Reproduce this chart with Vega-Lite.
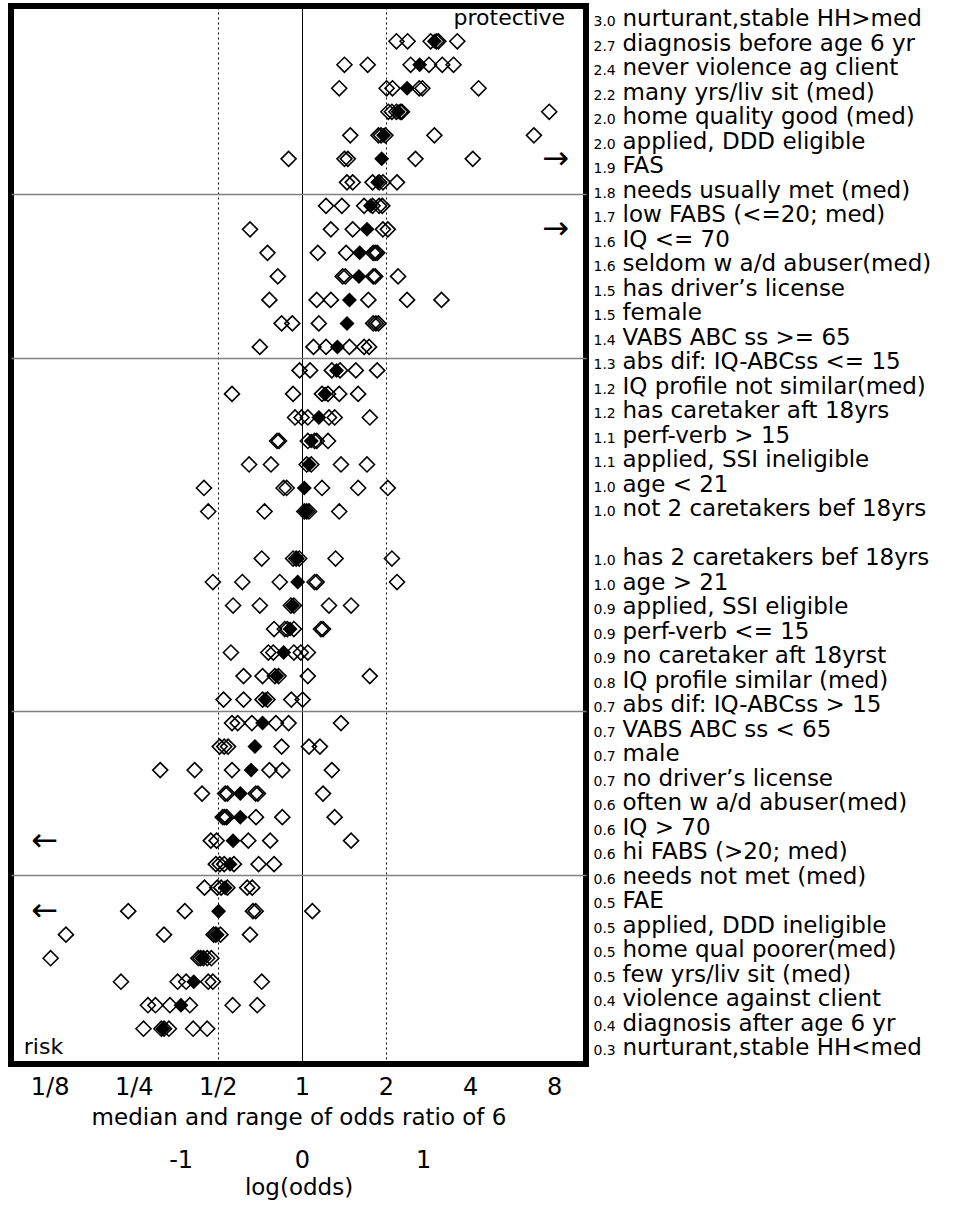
{
  "$schema": "https://vega.github.io/schema/vega-lite/v6.json",
  "width": 575,
  "height": 1058,
  "autosize": {"type": "none"},
  "padding": {"left": 11, "top": 6, "right": 372, "bottom": 145},
  "background": "white",
  "config": {"font": "DejaVu Sans", "view": {"stroke": "black", "strokeWidth": 6}},
  "datasets": {
    "studies": [
      {"factor": "3.0 nurturant,stable HH>med", "or": 2.18}, {"factor": "3.0 nurturant,stable HH>med", "or": 2.39}, {"factor": "3.0 nurturant,stable HH>med", "or": 2.89}, {"factor": "3.0 nurturant,stable HH>med", "or": 3.03}, {"factor": "3.0 nurturant,stable HH>med", "or": 3.08}, {"factor": "3.0 nurturant,stable HH>med", "or": 3.6},
      {"factor": "2.7 diagnosis before age 6 yr", "or": 1.42}, {"factor": "2.7 diagnosis before age 6 yr", "or": 1.72}, {"factor": "2.7 diagnosis before age 6 yr", "or": 2.45}, {"factor": "2.7 diagnosis before age 6 yr", "or": 2.85}, {"factor": "2.7 diagnosis before age 6 yr", "or": 3.18}, {"factor": "2.7 diagnosis before age 6 yr", "or": 3.49},
      {"factor": "2.4 never violence ag client", "or": 1.36}, {"factor": "2.4 never violence ag client", "or": 2.01}, {"factor": "2.4 never violence ag client", "or": 2.11}, {"factor": "2.4 never violence ag client", "or": 2.63}, {"factor": "2.4 never violence ag client", "or": 2.7}, {"factor": "2.4 never violence ag client", "or": 4.29},
      {"factor": "2.2 many yrs/liv sit (med)", "or": 2.04}, {"factor": "2.2 many yrs/liv sit (med)", "or": 2.1}, {"factor": "2.2 many yrs/liv sit (med)", "or": 2.18}, {"factor": "2.2 many yrs/liv sit (med)", "or": 2.25}, {"factor": "2.2 many yrs/liv sit (med)", "or": 2.28}, {"factor": "2.2 many yrs/liv sit (med)", "or": 7.68},
      {"factor": "2.0 home quality good (med)", "or": 1.49}, {"factor": "2.0 home quality good (med)", "or": 1.88}, {"factor": "2.0 home quality good (med)", "or": 1.92}, {"factor": "2.0 home quality good (med)", "or": 1.99}, {"factor": "2.0 home quality good (med)", "or": 2.98}, {"factor": "2.0 home quality good (med)", "or": 6.77},
      {"factor": "2.0 applied, DDD eligible", "or": 0.896}, {"factor": "2.0 applied, DDD eligible", "or": 1.42}, {"factor": "2.0 applied, DDD eligible", "or": 1.46}, {"factor": "2.0 applied, DDD eligible", "or": 2.55}, {"factor": "2.0 applied, DDD eligible", "or": 4.09},
      {"factor": "1.9 FAS", "or": 1.45}, {"factor": "1.9 FAS", "or": 1.52}, {"factor": "1.9 FAS", "or": 1.79}, {"factor": "1.9 FAS", "or": 1.89}, {"factor": "1.9 FAS", "or": 1.95}, {"factor": "1.9 FAS", "or": 2.19},
      {"factor": "1.8 needs usually met (med)", "or": 1.22}, {"factor": "1.8 needs usually met (med)", "or": 1.39}, {"factor": "1.8 needs usually met (med)", "or": 1.67}, {"factor": "1.8 needs usually met (med)", "or": 1.79}, {"factor": "1.8 needs usually met (med)", "or": 1.89}, {"factor": "1.8 needs usually met (med)", "or": 1.94},
      {"factor": "1.7 low FABS (<=20; med)", "or": 0.652}, {"factor": "1.7 low FABS (<=20; med)", "or": 1.27}, {"factor": "1.7 low FABS (<=20; med)", "or": 1.52}, {"factor": "1.7 low FABS (<=20; med)", "or": 1.95}, {"factor": "1.7 low FABS (<=20; med)", "or": 2.03},
      {"factor": "1.6 IQ <= 70", "or": 0.753}, {"factor": "1.6 IQ <= 70", "or": 1.14}, {"factor": "1.6 IQ <= 70", "or": 1.44}, {"factor": "1.6 IQ <= 70", "or": 1.8}, {"factor": "1.6 IQ <= 70", "or": 1.83}, {"factor": "1.6 IQ <= 70", "or": 1.86},
      {"factor": "1.6 seldom w a/d abuser(med)", "or": 0.82}, {"factor": "1.6 seldom w a/d abuser(med)", "or": 1.4}, {"factor": "1.6 seldom w a/d abuser(med)", "or": 1.43}, {"factor": "1.6 seldom w a/d abuser(med)", "or": 1.8}, {"factor": "1.6 seldom w a/d abuser(med)", "or": 1.83}, {"factor": "1.6 seldom w a/d abuser(med)", "or": 2.21},
      {"factor": "1.5 has driver’s license", "or": 0.765}, {"factor": "1.5 has driver’s license", "or": 1.13}, {"factor": "1.5 has driver’s license", "or": 1.27}, {"factor": "1.5 has driver’s license", "or": 1.73}, {"factor": "1.5 has driver’s license", "or": 2.38}, {"factor": "1.5 has driver’s license", "or": 3.16},
      {"factor": "1.5 female", "or": 0.846}, {"factor": "1.5 female", "or": 0.924}, {"factor": "1.5 female", "or": 1.15}, {"factor": "1.5 female", "or": 1.8}, {"factor": "1.5 female", "or": 1.84}, {"factor": "1.5 female", "or": 1.88},
      {"factor": "1.4 VABS ABC ss >= 65", "or": 0.707}, {"factor": "1.4 VABS ABC ss >= 65", "or": 1.1}, {"factor": "1.4 VABS ABC ss >= 65", "or": 1.22}, {"factor": "1.4 VABS ABC ss >= 65", "or": 1.48}, {"factor": "1.4 VABS ABC ss >= 65", "or": 1.67}, {"factor": "1.4 VABS ABC ss >= 65", "or": 1.74},
      {"factor": "1.3 abs dif: IQ-ABCss <= 15", "or": 0.981}, {"factor": "1.3 abs dif: IQ-ABCss <= 15", "or": 1.07}, {"factor": "1.3 abs dif: IQ-ABCss <= 15", "or": 1.28}, {"factor": "1.3 abs dif: IQ-ABCss <= 15", "or": 1.37}, {"factor": "1.3 abs dif: IQ-ABCss <= 15", "or": 1.56}, {"factor": "1.3 abs dif: IQ-ABCss <= 15", "or": 1.86},
      {"factor": "1.2 IQ profile not similar(med)", "or": 0.562}, {"factor": "1.2 IQ profile not similar(med)", "or": 0.93}, {"factor": "1.2 IQ profile not similar(med)", "or": 1.18}, {"factor": "1.2 IQ profile not similar(med)", "or": 1.24}, {"factor": "1.2 IQ profile not similar(med)", "or": 1.36}, {"factor": "1.2 IQ profile not similar(med)", "or": 1.59},
      {"factor": "1.2 has caretaker aft 18yrs", "or": 0.945}, {"factor": "1.2 has caretaker aft 18yrs", "or": 0.997}, {"factor": "1.2 has caretaker aft 18yrs", "or": 1.05}, {"factor": "1.2 has caretaker aft 18yrs", "or": 1.25}, {"factor": "1.2 has caretaker aft 18yrs", "or": 1.31}, {"factor": "1.2 has caretaker aft 18yrs", "or": 1.75},
      {"factor": "1.1 perf-verb > 15", "or": 0.815}, {"factor": "1.1 perf-verb > 15", "or": 0.828}, {"factor": "1.1 perf-verb > 15", "or": 1.05}, {"factor": "1.1 perf-verb > 15", "or": 1.11}, {"factor": "1.1 perf-verb > 15", "or": 1.13}, {"factor": "1.1 perf-verb > 15", "or": 1.24},
      {"factor": "1.1 applied, SSI ineligible", "or": 0.647}, {"factor": "1.1 applied, SSI ineligible", "or": 0.775}, {"factor": "1.1 applied, SSI ineligible", "or": 1.04}, {"factor": "1.1 applied, SSI ineligible", "or": 1.08}, {"factor": "1.1 applied, SSI ineligible", "or": 1.38}, {"factor": "1.1 applied, SSI ineligible", "or": 1.71},
      {"factor": "1.0 age < 21", "or": 0.446}, {"factor": "1.0 age < 21", "or": 0.86}, {"factor": "1.0 age < 21", "or": 0.882}, {"factor": "1.0 age < 21", "or": 1.18}, {"factor": "1.0 age < 21", "or": 1.59}, {"factor": "1.0 age < 21", "or": 2.03},
      {"factor": "1.0 not 2 caretakers bef 18yrs", "or": 0.462}, {"factor": "1.0 not 2 caretakers bef 18yrs", "or": 0.735}, {"factor": "1.0 not 2 caretakers bef 18yrs", "or": 1.02}, {"factor": "1.0 not 2 caretakers bef 18yrs", "or": 1.04}, {"factor": "1.0 not 2 caretakers bef 18yrs", "or": 1.06}, {"factor": "1.0 not 2 caretakers bef 18yrs", "or": 1.36},
      {"factor": "1.0 has 2 caretakers bef 18yrs", "or": 0.718}, {"factor": "1.0 has 2 caretakers bef 18yrs", "or": 0.93}, {"factor": "1.0 has 2 caretakers bef 18yrs", "or": 0.954}, {"factor": "1.0 has 2 caretakers bef 18yrs", "or": 0.978}, {"factor": "1.0 has 2 caretakers bef 18yrs", "or": 1.32}, {"factor": "1.0 has 2 caretakers bef 18yrs", "or": 2.1},
      {"factor": "1.0 age > 21", "or": 0.48}, {"factor": "1.0 age > 21", "or": 0.612}, {"factor": "1.0 age > 21", "or": 0.833}, {"factor": "1.0 age > 21", "or": 1.11}, {"factor": "1.0 age > 21", "or": 1.13}, {"factor": "1.0 age > 21", "or": 2.19},
      {"factor": "0.9 applied, SSI eligible", "or": 0.567}, {"factor": "0.9 applied, SSI eligible", "or": 0.707}, {"factor": "0.9 applied, SSI eligible", "or": 0.913}, {"factor": "0.9 applied, SSI eligible", "or": 0.936}, {"factor": "0.9 applied, SSI eligible", "or": 1.25}, {"factor": "0.9 applied, SSI eligible", "or": 1.5},
      {"factor": "0.9 perf-verb <= 15", "or": 0.795}, {"factor": "0.9 perf-verb <= 15", "or": 0.868}, {"factor": "0.9 perf-verb <= 15", "or": 0.887}, {"factor": "0.9 perf-verb <= 15", "or": 0.936}, {"factor": "0.9 perf-verb <= 15", "or": 1.17}, {"factor": "0.9 perf-verb <= 15", "or": 1.19},
      {"factor": "0.9 no caretaker aft 18yrst", "or": 0.557}, {"factor": "0.9 no caretaker aft 18yrst", "or": 0.758}, {"factor": "0.9 no caretaker aft 18yrst", "or": 0.79}, {"factor": "0.9 no caretaker aft 18yrst", "or": 0.936}, {"factor": "0.9 no caretaker aft 18yrst", "or": 0.991}, {"factor": "0.9 no caretaker aft 18yrst", "or": 1.05},
      {"factor": "0.8 IQ profile similar (med)", "or": 0.618}, {"factor": "0.8 IQ profile similar (med)", "or": 0.723}, {"factor": "0.8 IQ profile similar (med)", "or": 0.8}, {"factor": "0.8 IQ profile similar (med)", "or": 0.825}, {"factor": "0.8 IQ profile similar (med)", "or": 1.05}, {"factor": "0.8 IQ profile similar (med)", "or": 1.75},
      {"factor": "0.7 abs dif: IQ-ABCss > 15", "or": 0.524}, {"factor": "0.7 abs dif: IQ-ABCss > 15", "or": 0.618}, {"factor": "0.7 abs dif: IQ-ABCss > 15", "or": 0.723}, {"factor": "0.7 abs dif: IQ-ABCss > 15", "or": 0.753}, {"factor": "0.7 abs dif: IQ-ABCss > 15", "or": 0.916}, {"factor": "0.7 abs dif: IQ-ABCss > 15", "or": 1.006},
      {"factor": "0.7 VABS ABC ss < 65", "or": 0.562}, {"factor": "0.7 VABS ABC ss < 65", "or": 0.589}, {"factor": "0.7 VABS ABC ss < 65", "or": 0.662}, {"factor": "0.7 VABS ABC ss < 65", "or": 0.807}, {"factor": "0.7 VABS ABC ss < 65", "or": 0.896}, {"factor": "0.7 VABS ABC ss < 65", "or": 1.38},
      {"factor": "0.7 male", "or": 0.508}, {"factor": "0.7 male", "or": 0.527}, {"factor": "0.7 male", "or": 0.544}, {"factor": "0.7 male", "or": 0.846}, {"factor": "0.7 male", "or": 1.06}, {"factor": "0.7 male", "or": 1.16},
      {"factor": "0.7 no driver’s license", "or": 0.311}, {"factor": "0.7 no driver’s license", "or": 0.413}, {"factor": "0.7 no driver’s license", "or": 0.562}, {"factor": "0.7 no driver’s license", "or": 0.765}, {"factor": "0.7 no driver’s license", "or": 0.851}, {"factor": "0.7 no driver’s license", "or": 1.28},
      {"factor": "0.6 often w a/d abuser(med)", "or": 0.439}, {"factor": "0.6 often w a/d abuser(med)", "or": 0.531}, {"factor": "0.6 often w a/d abuser(med)", "or": 0.541}, {"factor": "0.6 often w a/d abuser(med)", "or": 0.683}, {"factor": "0.6 often w a/d abuser(med)", "or": 0.696}, {"factor": "0.6 often w a/d abuser(med)", "or": 1.19},
      {"factor": "0.6 IQ > 70", "or": 0.521}, {"factor": "0.6 IQ > 70", "or": 0.529}, {"factor": "0.6 IQ > 70", "or": 0.538}, {"factor": "0.6 IQ > 70", "or": 0.685}, {"factor": "0.6 IQ > 70", "or": 0.851}, {"factor": "0.6 IQ > 70", "or": 1.31},
      {"factor": "0.6 hi FABS (>20; med)", "or": 0.472}, {"factor": "0.6 hi FABS (>20; med)", "or": 0.495}, {"factor": "0.6 hi FABS (>20; med)", "or": 0.643}, {"factor": "0.6 hi FABS (>20; med)", "or": 0.77}, {"factor": "0.6 hi FABS (>20; med)", "or": 1.5},
      {"factor": "0.6 needs not met (med)", "or": 0.492}, {"factor": "0.6 needs not met (med)", "or": 0.508}, {"factor": "0.6 needs not met (med)", "or": 0.527}, {"factor": "0.6 needs not met (med)", "or": 0.571}, {"factor": "0.6 needs not met (med)", "or": 0.7}, {"factor": "0.6 needs not met (med)", "or": 0.795},
      {"factor": "0.5 FAE", "or": 0.448}, {"factor": "0.5 FAE", "or": 0.498}, {"factor": "0.5 FAE", "or": 0.514}, {"factor": "0.5 FAE", "or": 0.541}, {"factor": "0.5 FAE", "or": 0.637}, {"factor": "0.5 FAE", "or": 0.664},
      {"factor": "0.5 applied, DDD ineligible", "or": 0.239}, {"factor": "0.5 applied, DDD ineligible", "or": 0.381}, {"factor": "0.5 applied, DDD ineligible", "or": 0.668}, {"factor": "0.5 applied, DDD ineligible", "or": 0.683}, {"factor": "0.5 applied, DDD ineligible", "or": 1.09},
      {"factor": "0.5 home qual poorer(med)", "or": 0.143}, {"factor": "0.5 home qual poorer(med)", "or": 0.321}, {"factor": "0.5 home qual poorer(med)", "or": 0.483}, {"factor": "0.5 home qual poorer(med)", "or": 0.492}, {"factor": "0.5 home qual poorer(med)", "or": 0.511}, {"factor": "0.5 home qual poorer(med)", "or": 0.652},
      {"factor": "0.5 few yrs/liv sit (med)", "or": 0.126}, {"factor": "0.5 few yrs/liv sit (med)", "or": 0.426}, {"factor": "0.5 few yrs/liv sit (med)", "or": 0.434}, {"factor": "0.5 few yrs/liv sit (med)", "or": 0.444}, {"factor": "0.5 few yrs/liv sit (med)", "or": 0.458}, {"factor": "0.5 few yrs/liv sit (med)", "or": 0.474},
      {"factor": "0.4 violence against client", "or": 0.225}, {"factor": "0.4 violence against client", "or": 0.359}, {"factor": "0.4 violence against client", "or": 0.385}, {"factor": "0.4 violence against client", "or": 0.462}, {"factor": "0.4 violence against client", "or": 0.48}, {"factor": "0.4 violence against client", "or": 0.718},
      {"factor": "0.4 diagnosis after age 6 yr", "or": 0.281}, {"factor": "0.4 diagnosis after age 6 yr", "or": 0.299}, {"factor": "0.4 diagnosis after age 6 yr", "or": 0.337}, {"factor": "0.4 diagnosis after age 6 yr", "or": 0.397}, {"factor": "0.4 diagnosis after age 6 yr", "or": 0.565}, {"factor": "0.4 diagnosis after age 6 yr", "or": 0.692},
      {"factor": "0.3 nurturant,stable HH<med", "or": 0.271}, {"factor": "0.3 nurturant,stable HH<med", "or": 0.314}, {"factor": "0.3 nurturant,stable HH<med", "or": 0.321}, {"factor": "0.3 nurturant,stable HH<med", "or": 0.334}, {"factor": "0.3 nurturant,stable HH<med", "or": 0.408}, {"factor": "0.3 nurturant,stable HH<med", "or": 0.458}
    ],
    "medians": [
      {"factor": "3.0 nurturant,stable HH>med", "or": 2.98},
      {"factor": "2.7 diagnosis before age 6 yr", "or": 2.64},
      {"factor": "2.4 never violence ag client", "or": 2.38},
      {"factor": "2.2 many yrs/liv sit (med)", "or": 2.21},
      {"factor": "2.0 home quality good (med)", "or": 1.96},
      {"factor": "2.0 applied, DDD eligible", "or": 1.93},
      {"factor": "1.9 FAS", "or": 1.87},
      {"factor": "1.8 needs usually met (med)", "or": 1.76},
      {"factor": "1.7 low FABS (<=20; med)", "or": 1.71},
      {"factor": "1.6 IQ <= 70", "or": 1.61},
      {"factor": "1.6 seldom w a/d abuser(med)", "or": 1.6},
      {"factor": "1.5 has driver’s license", "or": 1.48},
      {"factor": "1.5 female", "or": 1.45},
      {"factor": "1.4 VABS ABC ss >= 65", "or": 1.34},
      {"factor": "1.3 abs dif: IQ-ABCss <= 15", "or": 1.33},
      {"factor": "1.2 IQ profile not similar(med)", "or": 1.21},
      {"factor": "1.2 has caretaker aft 18yrs", "or": 1.15},
      {"factor": "1.1 perf-verb > 15", "or": 1.08},
      {"factor": "1.1 applied, SSI ineligible", "or": 1.06},
      {"factor": "1.0 age < 21", "or": 1.02},
      {"factor": "1.0 not 2 caretakers bef 18yrs", "or": 1.03},
      {"factor": "1.0 has 2 caretakers bef 18yrs", "or": 0.96},
      {"factor": "1.0 age > 21", "or": 0.966},
      {"factor": "0.9 applied, SSI eligible", "or": 0.924},
      {"factor": "0.9 perf-verb <= 15", "or": 0.907},
      {"factor": "0.9 no caretaker aft 18yrst", "or": 0.86},
      {"factor": "0.8 IQ profile similar (med)", "or": 0.812},
      {"factor": "0.7 abs dif: IQ-ABCss > 15", "or": 0.739},
      {"factor": "0.7 VABS ABC ss < 65", "or": 0.723},
      {"factor": "0.7 male", "or": 0.679},
      {"factor": "0.7 no driver’s license", "or": 0.658},
      {"factor": "0.6 often w a/d abuser(med)", "or": 0.602},
      {"factor": "0.6 IQ > 70", "or": 0.602},
      {"factor": "0.6 hi FABS (>20; med)", "or": 0.567},
      {"factor": "0.6 needs not met (med)", "or": 0.553},
      {"factor": "0.5 FAE", "or": 0.531},
      {"factor": "0.5 applied, DDD ineligible", "or": 0.503},
      {"factor": "0.5 home qual poorer(med)", "or": 0.497},
      {"factor": "0.5 few yrs/liv sit (med)", "or": 0.44},
      {"factor": "0.4 violence against client", "or": 0.41},
      {"factor": "0.4 diagnosis after age 6 yr", "or": 0.369},
      {"factor": "0.3 nurturant,stable HH<med", "or": 0.318}
    ],
    "arrows": [
      {"factor": "2.0 applied, DDD eligible", "arrow": "→", "or": 8.1},
      {"factor": "1.7 low FABS (<=20; med)", "arrow": "→", "or": 8.1},
      {"factor": "0.6 hi FABS (>20; med)", "arrow": "←", "or": 0.12},
      {"factor": "0.5 applied, DDD ineligible", "arrow": "←", "or": 0.12}
    ],
    "notes": [
      {"note": "protective", "factor": "3.0 nurturant,stable HH>med", "or": 3.49},
      {"note": "risk", "factor": "0.3 nurturant,stable HH<med", "or": 0.101}
    ]
  },
  "resolve": {"scale": {"x": "independent", "y": "independent"}, "axis": {"x": "independent", "y": "independent"}},
  "layer": [
    {
      "encoding": {
        "x": {
          "field": "or", "type": "quantitative",
          "scale": {"type": "log", "base": 2, "domain": [0.0909, 10.4], "nice": false, "zero": false},
          "axis": {
            "orient": "bottom", "values": [0.125, 0.25, 0.5, 1, 2, 4, 8],
            "labelExpr": "datum.value < 1 ? '1/' + round(1 / datum.value) : '' + datum.value",
            "labelFontSize": 24, "labelPadding": 11, "labelColor": "black", "labelFlush": false, "labelOverlap": false,
            "ticks": false, "tickSize": 0, "domain": false,
            "grid": true, "gridColor": "black", "gridWidth": 1,
            "gridOpacity": {"condition": {"test": "datum.value == 0.5 || datum.value == 1 || datum.value == 2", "value": 1}, "value": 0},
            "gridDash": {"condition": {"test": "datum.value == 1", "value": []}, "value": [2, 3]},
            "title": "median and range of odds ratio of 6", "titleFontSize": 23, "titleFontWeight": "normal", "titleColor": "black", "titlePadding": 7
          }
        },
        "y": {
          "field": "factor", "type": "nominal",
          "scale": {"type": "band", "paddingInner": 0, "paddingOuter": 1.213, "align": 0.5,
            "domain": ["3.0 nurturant,stable HH>med", "2.7 diagnosis before age 6 yr", "2.4 never violence ag client", "2.2 many yrs/liv sit (med)", "2.0 home quality good (med)", "2.0 applied, DDD eligible", "1.9 FAS", "1.8 needs usually met (med)", "1.7 low FABS (<=20; med)", "1.6 IQ <= 70", "1.6 seldom w a/d abuser(med)", "1.5 has driver’s license", "1.5 female", "1.4 VABS ABC ss >= 65", "1.3 abs dif: IQ-ABCss <= 15", "1.2 IQ profile not similar(med)", "1.2 has caretaker aft 18yrs", "1.1 perf-verb > 15", "1.1 applied, SSI ineligible", "1.0 age < 21", "1.0 not 2 caretakers bef 18yrs", " ", "1.0 has 2 caretakers bef 18yrs", "1.0 age > 21", "0.9 applied, SSI eligible", "0.9 perf-verb <= 15", "0.9 no caretaker aft 18yrst", "0.8 IQ profile similar (med)", "0.7 abs dif: IQ-ABCss > 15", "0.7 VABS ABC ss < 65", "0.7 male", "0.7 no driver’s license", "0.6 often w a/d abuser(med)", "0.6 IQ > 70", "0.6 hi FABS (>20; med)", "0.6 needs not met (med)", "0.5 FAE", "0.5 applied, DDD ineligible", "0.5 home qual poorer(med)", "0.5 few yrs/liv sit (med)", "0.4 violence against client", "0.4 diagnosis after age 6 yr", "0.3 nurturant,stable HH<med"]},
          "axis": {
            "orient": "left", "values": ["1.8 needs usually met (med)", "1.3 abs dif: IQ-ABCss <= 15", "0.7 VABS ABC ss < 65", "0.5 FAE"],
            "bandPosition": 0, "grid": true, "gridColor": "#808080", "gridWidth": 1.5,
            "labels": false, "ticks": false, "domain": false, "title": null
          }
        }
      },
      "layer": [
        {"data": {"name": "studies"}, "mark": {"type": "point", "shape": "diamond", "filled": false, "color": "black", "strokeWidth": 1.6, "size": 225, "opacity": 1}},
        {"data": {"name": "medians"}, "mark": {"type": "point", "shape": "diamond", "filled": true, "color": "black", "size": 225, "opacity": 1}},
        {"data": {"name": "arrows"}, "mark": {"type": "text", "fontSize": 32, "baseline": "middle", "align": "center", "color": "black"}, "encoding": {"text": {"field": "arrow"}}}
      ]
    },
    {
      "data": {"name": "notes"},
      "mark": {"type": "text", "align": "left", "baseline": "middle", "fontSize": 22, "color": "black"},
      "encoding": {
        "x": {"field": "or", "type": "quantitative", "scale": {"type": "log", "base": 2, "domain": [0.0909, 10.4], "nice": false, "zero": false}, "axis": null},
        "y": {
          "field": "factor", "type": "nominal",
          "scale": {"type": "band", "paddingInner": 0, "paddingOuter": 0.09, "align": 0,
            "domain": ["3.0 nurturant,stable HH>med", "2.7 diagnosis before age 6 yr", "2.4 never violence ag client", "2.2 many yrs/liv sit (med)", "2.0 home quality good (med)", "2.0 applied, DDD eligible", "1.9 FAS", "1.8 needs usually met (med)", "1.7 low FABS (<=20; med)", "1.6 IQ <= 70", "1.6 seldom w a/d abuser(med)", "1.5 has driver’s license", "1.5 female", "1.4 VABS ABC ss >= 65", "1.3 abs dif: IQ-ABCss <= 15", "1.2 IQ profile not similar(med)", "1.2 has caretaker aft 18yrs", "1.1 perf-verb > 15", "1.1 applied, SSI ineligible", "1.0 age < 21", "1.0 not 2 caretakers bef 18yrs", " ", "1.0 has 2 caretakers bef 18yrs", "1.0 age > 21", "0.9 applied, SSI eligible", "0.9 perf-verb <= 15", "0.9 no caretaker aft 18yrst", "0.8 IQ profile similar (med)", "0.7 abs dif: IQ-ABCss > 15", "0.7 VABS ABC ss < 65", "0.7 male", "0.7 no driver’s license", "0.6 often w a/d abuser(med)", "0.6 IQ > 70", "0.6 hi FABS (>20; med)", "0.6 needs not met (med)", "0.5 FAE", "0.5 applied, DDD ineligible", "0.5 home qual poorer(med)", "0.5 few yrs/liv sit (med)", "0.4 violence against client", "0.4 diagnosis after age 6 yr", "0.3 nurturant,stable HH<med"]},
          "axis": {
            "orient": "right", "offset": 36, "labelPadding": 0, "ticks": false, "domain": false, "title": null,
            "labelExpr": "substring(datum.value, 4)", "labelFontSize": 23, "labelColor": "black",
            "labelAlign": "left", "labelBaseline": "alphabetic", "labelOffset": 8, "labelLimit": 400, "labelOverlap": false
          }
        },
        "text": {"field": "note"}
      }
    },
    {
      "data": {"name": "medians"},
      "mark": {"type": "point", "opacity": 0},
      "encoding": {
        "x": {
          "field": "or", "type": "quantitative",
          "scale": {"type": "log", "base": 2, "domain": [0.0909, 10.4], "nice": false, "zero": false},
          "axis": {
            "orient": "bottom", "offset": 73, "values": [0.36787944117, 1, 2.71828182846],
            "labelExpr": "'' + round(log(datum.value))",
            "labelFontSize": 24, "labelPadding": 11, "labelColor": "black", "labelFlush": false, "labelOverlap": false,
            "ticks": false, "tickSize": 0, "domain": false, "grid": false,
            "title": "log(odds)", "titleFontSize": 23, "titleFontWeight": "normal", "titleColor": "black", "titlePadding": 4
          }
        },
        "y": {
          "field": "factor", "type": "nominal",
          "scale": {"type": "band", "paddingInner": 0, "paddingOuter": 0.09, "align": 0,
            "domain": ["3.0 nurturant,stable HH>med", "2.7 diagnosis before age 6 yr", "2.4 never violence ag client", "2.2 many yrs/liv sit (med)", "2.0 home quality good (med)", "2.0 applied, DDD eligible", "1.9 FAS", "1.8 needs usually met (med)", "1.7 low FABS (<=20; med)", "1.6 IQ <= 70", "1.6 seldom w a/d abuser(med)", "1.5 has driver’s license", "1.5 female", "1.4 VABS ABC ss >= 65", "1.3 abs dif: IQ-ABCss <= 15", "1.2 IQ profile not similar(med)", "1.2 has caretaker aft 18yrs", "1.1 perf-verb > 15", "1.1 applied, SSI ineligible", "1.0 age < 21", "1.0 not 2 caretakers bef 18yrs", " ", "1.0 has 2 caretakers bef 18yrs", "1.0 age > 21", "0.9 applied, SSI eligible", "0.9 perf-verb <= 15", "0.9 no caretaker aft 18yrst", "0.8 IQ profile similar (med)", "0.7 abs dif: IQ-ABCss > 15", "0.7 VABS ABC ss < 65", "0.7 male", "0.7 no driver’s license", "0.6 often w a/d abuser(med)", "0.6 IQ > 70", "0.6 hi FABS (>20; med)", "0.6 needs not met (med)", "0.5 FAE", "0.5 applied, DDD ineligible", "0.5 home qual poorer(med)", "0.5 few yrs/liv sit (med)", "0.4 violence against client", "0.4 diagnosis after age 6 yr", "0.3 nurturant,stable HH<med"]},
          "axis": {
            "orient": "right", "offset": 0, "labelPadding": 7, "ticks": false, "domain": false, "title": null,
            "labelExpr": "substring(datum.value, 0, 3)", "labelFontSize": 14, "labelColor": "black",
            "labelAlign": "left", "labelBaseline": "alphabetic", "labelOffset": 8, "labelOverlap": false
          }
        }
      }
    }
  ]
}
